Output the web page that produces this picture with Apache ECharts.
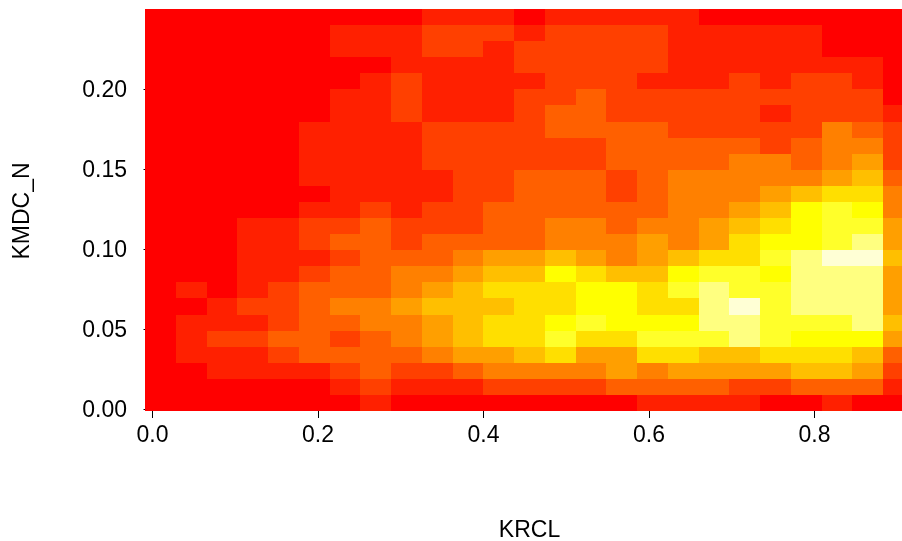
<!DOCTYPE html>
<html>
<head>
<meta charset="utf-8">
<style>html,body{margin:0;padding:0;background:#fff;overflow:hidden}#c{width:902px;height:541px}</style>
<script src="https://cdn.jsdelivr.net/npm/echarts@6/dist/echarts.min.js"></script>
</head>
<body>
<div id="c"></div>
<script>
// Colour levels read per cell. Each row is one KMDC_N bin, each entry one KRCL bin.
const rowTop00 = [0,0,0,0,0,0,0,0,0,1,1,1,0,1,1,1,1,1,0,0,0,0,0,0,0];
const rowTop01 = [0,0,0,0,0,0,1,1,1,2,2,2,1,2,2,2,2,1,1,1,1,1,0,0,0];
const rowTop02 = [0,0,0,0,0,0,1,1,1,2,2,1,2,2,2,2,2,1,1,1,1,1,0,0,0];
const rowTop03 = [0,0,0,0,0,0,0,0,1,1,1,1,2,2,2,2,2,1,1,1,1,1,1,1,0];
const rowTop04 = [0,0,0,0,0,0,0,1,2,1,1,1,1,2,2,2,1,1,1,2,1,2,2,1,0];
const rowTop05 = [0,0,0,0,0,0,1,1,2,1,1,1,2,2,3,2,2,2,2,2,2,2,2,2,0];
const rowTop06 = [0,0,0,0,0,0,1,1,2,1,1,1,2,3,3,2,2,2,2,2,1,2,2,2,1];
const rowTop07 = [0,0,0,0,0,1,1,1,1,2,2,2,2,3,3,3,3,2,2,2,2,2,4,3,2];
const rowTop08 = [0,0,0,0,0,1,1,1,1,2,2,2,2,2,2,3,3,3,3,3,2,3,4,4,2];
const rowTop09 = [0,0,0,0,0,1,1,1,1,2,2,2,2,2,2,3,3,3,3,4,4,3,4,5,2];
const rowTop10 = [0,0,0,0,0,1,1,1,1,1,2,2,3,3,3,2,3,4,4,4,4,4,5,6,3];
const rowTop11 = [0,0,0,0,0,0,1,1,1,1,2,2,3,3,3,2,3,4,4,4,5,6,7,7,4];
const rowTop12 = [0,0,0,0,0,1,1,2,1,2,2,3,3,3,3,3,3,4,4,5,6,8,9,8,4];
const rowTop13 = [0,0,0,1,1,2,2,3,2,2,2,3,3,4,4,3,4,4,5,6,7,8,9,9,5];
const rowTop14 = [0,0,0,1,1,2,3,3,2,3,3,3,3,4,4,4,5,4,5,7,8,8,9,10,5];
const rowTop15 = [0,0,0,1,1,1,2,3,3,3,4,5,5,6,5,4,5,6,7,7,9,10,11,11,6];
const rowTop16 = [0,0,0,1,1,2,3,3,4,4,5,6,6,8,7,6,6,8,9,9,8,10,10,10,5];
const rowTop17 = [0,1,0,1,2,3,3,3,4,5,6,7,7,7,8,8,7,9,10,9,9,10,10,10,5];
const rowTop18 = [0,0,1,2,2,3,4,4,5,6,6,6,7,7,8,8,7,7,10,11,9,10,10,10,5];
const rowTop19 = [0,1,1,1,2,3,3,4,4,5,6,7,7,8,9,8,8,8,10,10,9,9,9,10,6];
const rowTop20 = [0,1,2,2,3,3,2,3,4,5,6,7,7,9,7,7,9,9,9,10,9,8,8,8,5];
const rowTop21 = [0,1,1,1,2,3,3,3,3,4,5,5,6,7,5,5,7,7,6,6,7,7,7,6,3];
const rowTop22 = [0,0,1,1,1,1,2,3,2,2,3,4,4,4,4,5,4,5,5,5,5,6,6,5,2];
const rowTop23 = [0,0,0,0,0,0,1,2,1,1,1,2,2,2,2,3,3,3,3,2,2,3,3,3,1];
const rowTop24 = [0,0,0,0,0,0,0,1,0,0,0,0,0,0,0,0,1,1,1,1,0,0,1,0,0];

const heatPalette = ['#FF0000','#FF2000','#FF4000','#FF6000','#FF8000','#FF9F00','#FFBF00','#FFDF00','#FFFF00','#FFFF2A','#FFFF80','#FFFFD5'];
const xTickValues = [0, 0.2, 0.4, 0.6, 0.8];
const yTickValues = [0, 0.05, 0.10, 0.15, 0.20];
const xName = 'KRCL';
const yName = 'KMDC_N';

const rows = [rowTop00,rowTop01,rowTop02,rowTop03,rowTop04,rowTop05,rowTop06,rowTop07,rowTop08,rowTop09,
  rowTop10,rowTop11,rowTop12,rowTop13,rowTop14,rowTop15,rowTop16,rowTop17,rowTop18,rowTop19,
  rowTop20,rowTop21,rowTop22,rowTop23,rowTop24];

// Bin edges on the data scales.
const xStart = -0.0091, xBin = 0.03717;
const yStart = -0.00125, yBin = 0.01005;
const cells = [];
rows.forEach((row, r) => {
  const b = rows.length - 1 - r;
  row.forEach((lvl, c) => {
    cells.push([xStart + c * xBin, xStart + (c + 1) * xBin, yStart + b * yBin, yStart + (b + 1) * yBin, lvl]);
  });
});

const font = '"Liberation Sans", Arial, Helvetica, sans-serif';
const fontSize = 23;
const axisCommon = {
  type: 'value',
  splitLine: { show: false },
  axisLine: { show: false },
  nameLocation: 'middle'
};

const chart = echarts.init(document.getElementById('c'), null, { renderer: 'canvas' });
chart.setOption({
  animation: false,
  backgroundColor: '#fff',
  // The plot region runs past the right edge of the picture, which crops the last column.
  grid: { left: 145, right: -12, top: 9, bottom: 130, containLabel: false, outerBoundsMode: 'none' },
  xAxis: Object.assign({}, axisCommon, {
    min: xStart,
    max: xStart + rows[0].length * xBin,
    name: xName,
    nameGap: 108,
    nameTextStyle: { color: '#000', fontFamily: font, fontSize },
    axisTick: { show: true, length: 9, lineStyle: { color: '#000', width: 1 }, customValues: xTickValues },
    axisLabel: { color: '#000', fontFamily: font, fontSize, margin: 13, customValues: xTickValues, formatter: v => v.toFixed(1) }
  }),
  yAxis: Object.assign({}, axisCommon, {
    min: yStart,
    max: 0.25,
    name: yName,
    nameGap: 111,
    nameRotate: 90,
    nameTextStyle: { color: '#000', fontFamily: font, fontSize, padding: [0, 2, 0, 0] },
    axisTick: { show: true, length: 9, lineStyle: { color: '#000', width: 1 }, customValues: yTickValues },
    axisLabel: { color: '#000', fontFamily: font, fontSize, margin: 18, verticalAlign: 'top', lineHeight: 3, customValues: yTickValues, formatter: v => v.toFixed(2) }
  }),
  series: [{
    type: 'custom',
    coordinateSystem: 'cartesian2d',
    clip: true,
    encode: { x: [0, 1], y: [2, 3] },
    data: cells,
    renderItem(params, api) {
      const p0 = api.coord([api.value(0), api.value(3)]);
      const p1 = api.coord([api.value(1), api.value(2)]);
      const x = Math.round(p0[0]), y = Math.round(p0[1]);
      return {
        type: 'rect',
        shape: { x, y, width: Math.round(p1[0]) - x, height: Math.round(p1[1]) - y },
        style: { fill: heatPalette[api.value(4)] }
      };
    }
  }]
});
</script>
</body>
</html>
